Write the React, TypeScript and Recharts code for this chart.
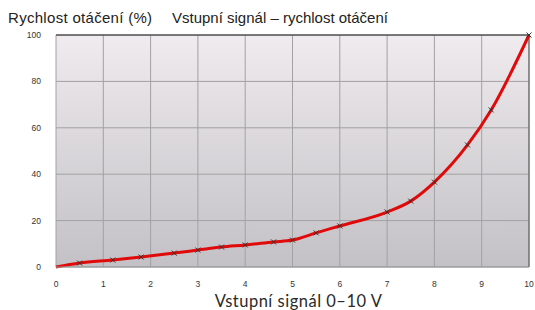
import { LineChart, Line, XAxis, YAxis, CartesianGrid, ReferenceLine } from 'recharts';

const signal = [0, 0.5, 1.2, 1.8, 2.5, 3, 3.5, 4, 4.6, 5, 5.5, 6, 7, 7.5, 8, 8.7, 9.2, 10];
const speed = [0, 1.7, 3, 4.3, 6, 7.3, 8.6, 9.5, 10.8, 11.6, 14.7, 17.7, 23.7, 28.4, 36.6, 52.6, 67.7, 100];
const xTicks = [0, 1, 2, 3, 4, 5, 6, 7, 8, 9, 10];
const yTicks = [0, 20, 40, 60, 80, 100];

const data = signal.map((s, i) => ({ signal: s, speed: speed[i] }));

// small "x" marker, skipped on the first point
const Cross = (props: any) => {
  const { cx, cy, index } = props;
  if (index === 0 || cx == null || cy == null) return <g key={index} />;
  const r = 2.5;
  return (
    <g key={index} stroke="#3a3030" strokeWidth={1}>
      <line x1={cx - r} y1={cy - r} x2={cx + r} y2={cy + r} />
      <line x1={cx - r} y1={cy + r} x2={cx + r} y2={cy - r} />
    </g>
  );
};

const tickStyle = { fontSize: 8.5, fill: '#333', fontFamily: 'Liberation Sans, Arial, sans-serif' };
const titleStyle = {
  position: 'absolute' as const,
  top: 9,
  fontSize: 15,
  fontFamily: 'Liberation Sans, Arial, sans-serif',
  color: '#222',
  whiteSpace: 'nowrap' as const,
  letterSpacing: 0.3,
};

export default function App() {
  return (
    <div style={{ position: 'absolute', left: 0, top: 0, width: 535, height: 310, background: '#fff' }}>
      <div style={{ ...titleStyle, left: 8 }}>Rychlost otáčení (%)</div>
      <div style={{ ...titleStyle, left: 172, letterSpacing: 0 }}>Vstupní signál – rychlost otáčení</div>
      <LineChart
        width={535}
        height={310}
        data={data}
        margin={{ top: 35, right: 6, left: 0, bottom: 0 }}
      >
        <defs>
          <linearGradient id="bg" x1="0" y1="0" x2="0" y2="1">
            <stop offset="0%" stopColor="#efebef" />
            <stop offset="100%" stopColor="#c3c1c5" />
          </linearGradient>
        </defs>
        <CartesianGrid fill="url(#bg)" stroke="#a2a2a2" strokeWidth={1} />
        <XAxis
          type="number"
          dataKey="signal"
          domain={[0, 10]}
          ticks={xTicks}
          height={43}
          tick={tickStyle}
          tickLine={false}
          axisLine={{ stroke: '#999' }}
          tickMargin={8}
          label={{
            value: 'Vstupní signál 0–10 V',
            position: 'insideBottom',
            offset: 3,
            dx: 6,
            style: {
              fontSize: 16.5,
              fill: '#2a2a2a',
              fontFamily: 'Lato, DejaVu Sans, sans-serif',
              letterSpacing: 0.5,
            },
          }}
        />
        <YAxis
          type="number"
          domain={[0, 100]}
          ticks={yTicks}
          width={56}
          tick={tickStyle}
          tickLine={false}
          axisLine={false}
          tickMargin={9}
        />
        <ReferenceLine y={100} stroke="#222" strokeWidth={1} />
        <ReferenceLine x={10} stroke="#555" strokeWidth={1} />
        <Line
          type="monotone"
          dataKey="speed"
          stroke="#e00a0a"
          strokeWidth={3}
          dot={Cross}
          activeDot={false}
          isAnimationActive={false}
        />
      </LineChart>
    </div>
  );
}
